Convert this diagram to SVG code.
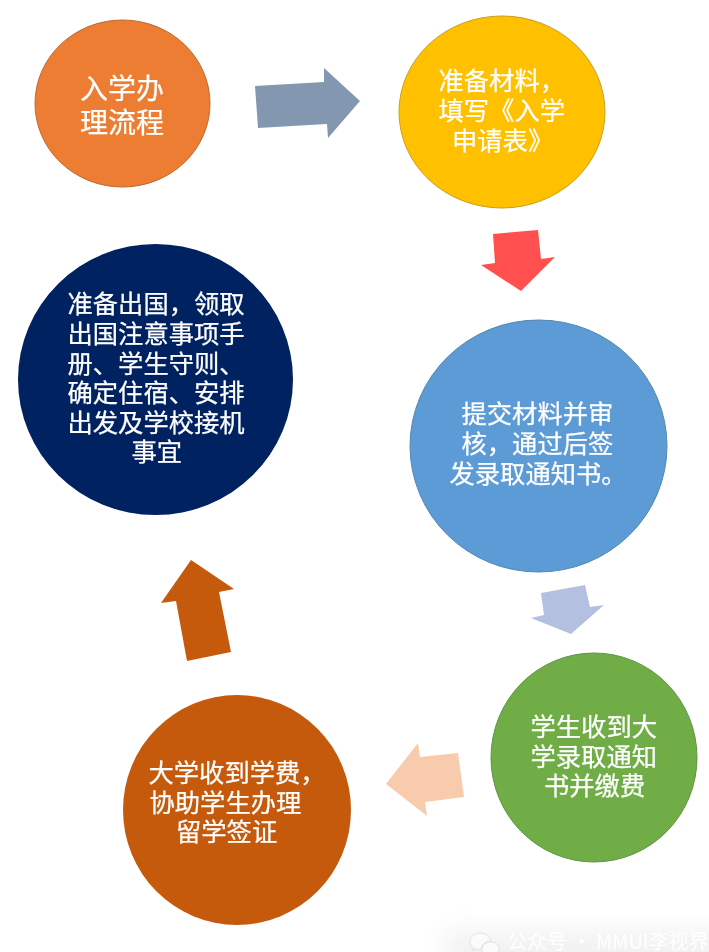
<svg xmlns="http://www.w3.org/2000/svg" width="709" height="952" viewBox="0 0 709 952">
  <style>
    text { font-family: "Noto Sans CJK SC", "Noto Sans", sans-serif; fill: #ffffff; stroke: #ffffff; stroke-width: 0.25px; font-size: 25.300px; filter: url(#t); }
    .big { font-size: 28px; }
    .mark { fill: #ffffff; stroke: none; font-size: 20px; }
    .ico { fill: #fbfbfb; stroke: #dcdcdc; stroke-width: 0.8; }
    ellipse, polygon { filter: url(#t); }
  </style>
  <defs>
    <filter id="soft" x="-20%" y="-60%" width="140%" height="220%">
      <feGaussianBlur stdDeviation="13"/>
    </filter>
    <filter id="t" x="-5%" y="-5%" width="110%" height="110%">
      <feGaussianBlur stdDeviation="0.35"/>
    </filter>
  </defs>
  <rect width="709" height="952" fill="#ffffff"/>
  <g id="watermark">
    <rect x="445" y="930" width="300" height="50" fill="#f2f2f2" filter="url(#soft)"/>
    <path class="ico" d="M481 933c-6.500 0-11 3.800-11 8.500 0 2.700 1.400 4.800 3.600 6.400l-.9 2.800 3.300-1.700c1.500.4 3 .7 5 .7 0-5 4.500-8.700 10-8.700-.8-4.500-4.800-8-10-8z"/>
    <path class="ico" d="M491 942c-5 0-9 3.200-9 7.300s4 7.300 9 7.300c1 0 2-.2 3-.4l2.800 1.500-.8-2.400c1.900-1.400 3.200-3.500 3.200-6 0-4.100-3.700-7.300-8.200-7.300z"/>
    <text class="mark" x="507" y="949">公众号 · MMUI李视界</text>
  </g>
  <g id="connectors">
    <polygon points="255,86 324,82 324,68 360,101 328,138 327,124 258,128" fill="#8497B0"/>
    <polygon points="493,234 538,230 541,259 555,257 521,291 481,265 495,263" fill="#FF5050"/>
    <polygon points="541,593 585,585 590,607 604,605 571,634 531,618 544,615" fill="#B4C0E0"/>
    <polygon points="458,753 464,797 425,802 427,816 386,784 418,743 420,757" fill="#F8CBAD"/>
    <polygon points="191,560 234,589 219,592 231,652 187,661 176,601 161,603" fill="#C55A11"/>
  </g>
  <g id="node-start">
    <ellipse cx="122.500" cy="103.500" rx="87.500" ry="83.500" fill="#ED7D31" stroke="#BC6A30" stroke-width="1"/>
    <text class="big" x="80" y="99">入学办</text>
    <text class="big" x="80" y="133">理流程</text>
  </g>
  <g id="node-prepare">
    <ellipse cx="502" cy="112" rx="103" ry="96" fill="#FFC000" stroke="#C89E20" stroke-width="1"/>
    <text x="438.500" y="90">准备材料，</text>
    <text x="438.500" y="120">填写《入学</text>
    <text x="452" y="150">申请表》</text>
  </g>
  <g id="node-submit">
    <ellipse cx="538.500" cy="446" rx="128.500" ry="126" fill="#5B9BD5" stroke="#5585AE" stroke-width="1"/>
    <text x="461.500" y="423">提交材料并审</text>
    <text x="461.500" y="453">核，通过后签</text>
    <text x="449.500" y="483">发录取通知书。</text>
  </g>
  <g id="node-pay">
    <ellipse cx="594" cy="757.500" rx="103" ry="104.500" fill="#70AD47" stroke="#5F9440" stroke-width="1"/>
    <text x="530.500" y="736">学生收到大</text>
    <text x="530.500" y="766">学录取通知</text>
    <text x="544" y="795">书并缴费</text>
  </g>
  <g id="node-visa">
    <ellipse cx="237" cy="810" rx="114" ry="115" fill="#C55A11"/>
    <text x="148.500" y="782">大学收到学费，</text>
    <text x="149.500" y="812">协助学生办理</text>
    <text x="176" y="841">留学签证</text>
  </g>
  <g id="node-depart">
    <ellipse cx="155.500" cy="379.500" rx="137.500" ry="135.500" fill="#002060"/>
    <text x="67.500" y="313">准备出国，领取</text>
    <text x="67.500" y="343">出国注意事项手</text>
    <text x="67.500" y="373">册、学生守则、</text>
    <text x="67.500" y="402">确定住宿、安排</text>
    <text x="67.500" y="432">出发及学校接机</text>
    <text x="131.500" y="461">事宜</text>
  </g>
</svg>
